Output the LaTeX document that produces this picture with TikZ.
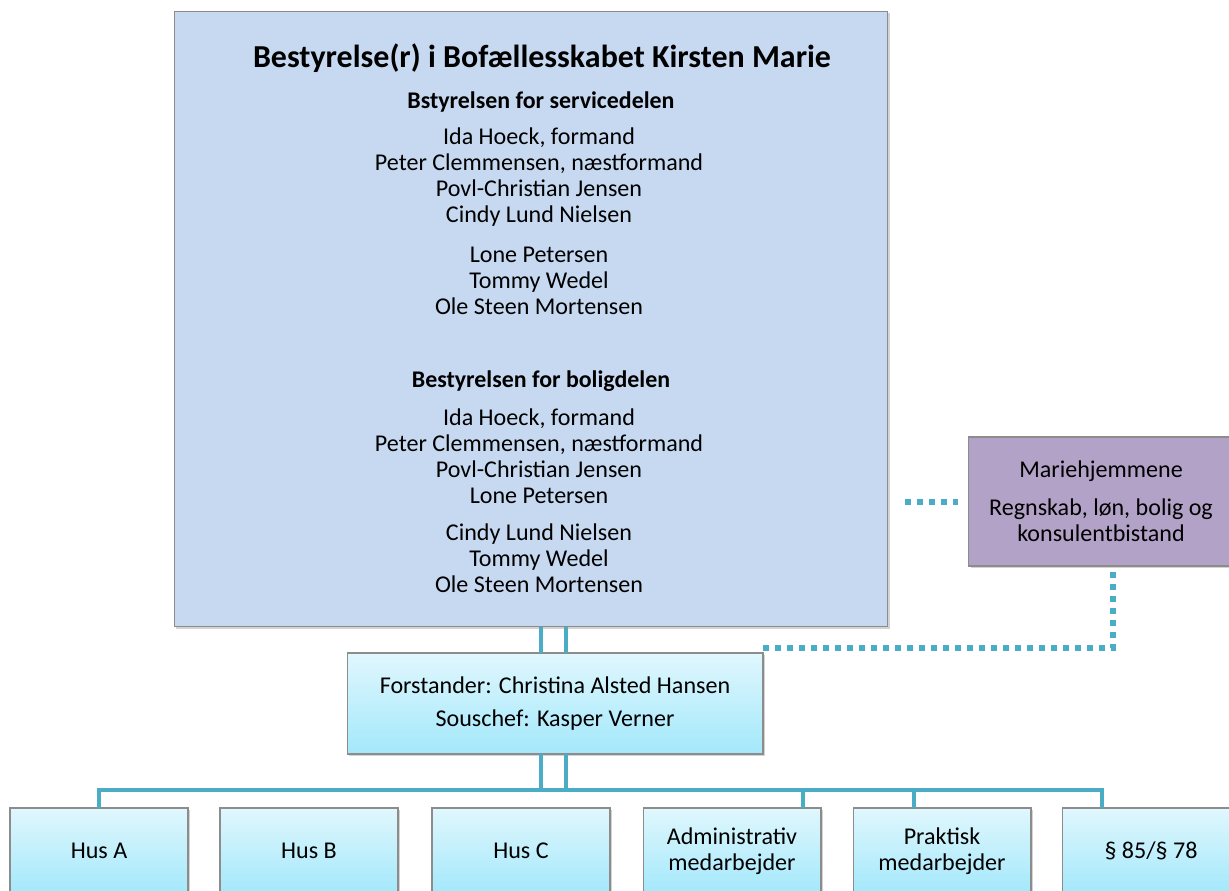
\documentclass[tikz,border=0pt]{standalone}
\usepackage{fontspec}
\setmainfont{Carlito}
\usetikzlibrary{shadows}
\definecolor{boardblue}{HTML}{C6D9F1}
\definecolor{mhpurple}{HTML}{B3A2C7}
\definecolor{linkblue}{HTML}{4BACC6}
\definecolor{boxtop}{HTML}{E0F7FD}
\definecolor{boxbottom}{HTML}{A3E8FB}
\definecolor{boxedge}{HTML}{8C8C8C}

\begin{document}
\begin{tikzpicture}[x=0.02cm, y=-0.02cm,
  every node/.style={font=\fontsize{13.7}{14.8}\selectfont, align=center, inner sep=0pt, outer sep=0pt},
  box/.style={draw=boxedge, line width=0.6pt, drop shadow={shadow xshift=1.2pt, shadow yshift=-1.2pt, opacity=0.35}},
  unit/.style={box, top color=boxtop, bottom color=boxbottom, minimum width=3.56cm, minimum height=1.72cm},
  head/.style={font=\fontsize{13.6}{14.8}\selectfont\bfseries},
  link/.style={linkblue, line width=0.08cm},
  dots/.style={linkblue, line width=0.12cm, dash pattern=on 0.12cm off 0.12cm}]
\useasboundingbox (0,0) rectangle (1229,891);
\clip (0,0) rectangle (1229,891);

\node[box, fill=boardblue, minimum width=14.28cm, minimum height=12.32cm] (board) at (531,319) {};
\node[font=\fontsize{18.2}{20}\selectfont\bfseries] (title) at (542,58) {Bestyrelse(r) i Bofællesskabet Kirsten Marie};
\node[head] (service) at (541,102) {Bstyrelsen for servicedelen};
\node (s1) at (539,177.5) {Ida Hoeck, formand\\Peter Clemmensen, næstformand\\Povl-Christian Jensen\\Cindy Lund Nielsen};
\node (s2) at (539,281) {Lone Petersen\\Tommy Wedel\\Ole Steen Mortensen};
\node[head] (bolig) at (541,381) {Bestyrelsen for boligdelen};
\node (b1) at (539,456) {Ida Hoeck, formand\\Peter Clemmensen, næstformand\\Povl-Christian Jensen\\Lone Petersen};
\node (b2) at (539,558) {Cindy Lund Nielsen\\Tommy Wedel\\Ole Steen Mortensen};

\node[box, fill=mhpurple, minimum width=5.3cm, minimum height=2.58cm] (mh) at (1101,501.5) {Mariehjemmene\\[7pt]Regnskab, løn, bolig og\\konsulentbistand};
\node[box, top color=boxtop, bottom color=boxbottom, minimum width=8.32cm, minimum height=2.02cm] (leader) at (555,703.5) {Forstander: Christina Alsted Hansen\\[3.5pt]Souschef: Kasper Verner};

\node[unit] (husA) at (99,851) {Hus A};
\node[unit] (husB) at (309,851) {Hus B};
\node[unit] (husC) at (521,851) {Hus C};
\node[unit] (admin) at (732,851) {Administrativ\\medarbejder};
\node[unit] (prak) at (942,851) {Praktisk\\medarbejder};
\node[unit] (para) at (1151,851) {§ 85/§ 78};

\coordinate (bus) at (0,790);
\coordinate (la) at (541,0);
\coordinate (lb) at (566,0);
\coordinate (ta) at (803,0);
\coordinate (tp) at (914,0);
\coordinate (tq) at (1102,0);

\draw[link] (board.south -| la) -- (leader.north -| la);
\draw[link] (board.south -| lb) -- (leader.north -| lb);
\draw[link] (leader.south -| la) -- (bus -| la);
\draw[link] (leader.south -| lb) -- (bus -| lb);
\draw[link] (husA.north) |- (bus -| tq) -- (para.north -| tq);
\draw[link] (bus -| ta) -- (admin.north -| ta);
\draw[link] (bus -| tp) -- (prak.north -| tp);

\draw[dots, shorten <=0.34cm, shorten >=0.22cm] (mh.west -| board.east) -- (mh.west);
\draw[dots, shorten <=0.12cm] ([xshift=0.24cm]mh.south) |- ([yshift=0.1cm]leader.north east);
\end{tikzpicture}
\end{document}
